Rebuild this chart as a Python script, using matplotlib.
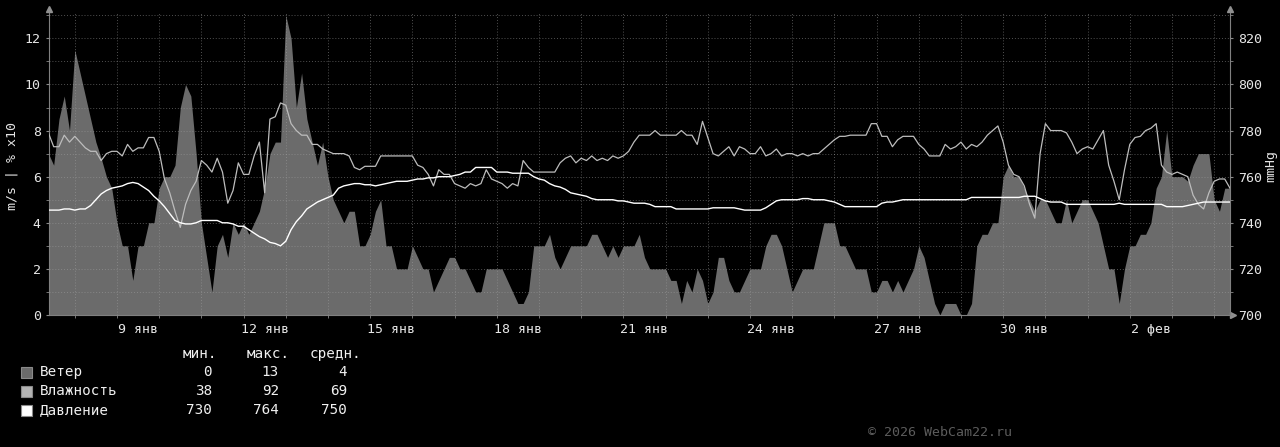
import numpy as np
import matplotlib.pyplot as plt
from matplotlib.patches import Rectangle
from matplotlib.ticker import FixedLocator, MultipleLocator

plt.rcParams['font.family'] = 'DejaVu Sans Mono'

# time: days from 9 Jan 00:00, a sample every 3 hours starting 7 Jan 09:00
t_start = -1.625
t_step = 0.125

# wind, m/s
wind = [
    7, 6.5, 8.5, 9.5, 8,                       # 7 Jan (from 09:00)
    11.5, 10.5, 9.5, 8.5, 7.5, 6.8, 6, 5.5,    # 8 Jan
    4, 3, 3, 1.5, 3, 3, 4, 4,                  # 9 Jan
    5.5, 6, 6, 6.5, 9, 10, 9.5, 7,             # 10 Jan
    4, 2.5, 1, 3, 3.5, 2.5, 4, 3.5,            # 11 Jan
    4, 3.5, 4, 4.5, 5.5, 7, 7.5, 7.5,          # 12 Jan
    13, 12, 9, 10.5, 8.5, 7.5, 6.5, 7.5,       # 13 Jan
    6, 5, 4.5, 4, 4.5, 4.5, 3, 3,              # 14 Jan
    3.5, 4.5, 5, 3, 3, 2, 2, 2,                # 15 Jan
    3, 2.5, 2, 2, 1, 1.5, 2, 2.5,              # 16 Jan
    2.5, 2, 2, 1.5, 1, 1, 2, 2,                # 17 Jan
    2, 2, 1.5, 1, 0.5, 0.5, 1, 3,              # 18 Jan
    3, 3, 3.5, 2.5, 2, 2.5, 3, 3,              # 19 Jan
    3, 3, 3.5, 3.5, 3, 2.5, 3, 2.5,            # 20 Jan
    3, 3, 3, 3.5, 2.5, 2, 2, 2,                # 21 Jan
    2, 1.5, 1.5, 0.5, 1.5, 1, 2, 1.5,          # 22 Jan
    0.5, 1, 2.5, 2.5, 1.5, 1, 1, 1.5,          # 23 Jan
    2, 2, 2, 3, 3.5, 3.5, 3, 2,                # 24 Jan
    1, 1.5, 2, 2, 2, 3, 4, 4,                  # 25 Jan
    4, 3, 3, 2.5, 2, 2, 2, 1,                  # 26 Jan
    1, 1.5, 1.5, 1, 1.5, 1, 1.5, 2,            # 27 Jan
    3, 2.5, 1.5, 0.5, 0, 0.5, 0.5, 0.5,        # 28 Jan
    0, 0, 0.5, 3, 3.5, 3.5, 4, 4,              # 29 Jan
    6, 6.5, 6, 6, 5.5, 5, 4.5, 5,              # 30 Jan
    5, 4.5, 4, 4, 5, 4, 4.5, 5,                # 31 Jan
    5, 4.5, 4, 3, 2, 2, 0.5, 2,                # 1 Feb
    3, 3, 3.5, 3.5, 4, 5.5, 6, 8,              # 2 Feb
    6, 6, 6, 5.8, 6.5, 7, 7, 7,                # 3 Feb
    5, 4.5, 5.5, 5.5,                          # 4 Feb
]

# humidity, %
humidity = [
    79, 73, 73, 78, 75,
    77.5, 75, 72.5, 71, 71, 67, 70, 71,
    71, 69, 74, 71, 72.5, 72.5, 77, 77,
    71, 59, 53, 45, 38, 48, 54, 58,
    67, 65, 62, 68, 62, 48.5, 54, 66,
    61, 61, 69, 75, 53, 85, 86, 92,
    91, 83, 80, 78, 78, 74, 74, 72,
    71, 70, 70, 70, 69, 64, 63, 64.5,
    64.5, 64.5, 69, 69, 69, 69, 69, 69,
    69, 65, 64, 61, 56, 63, 61, 61,
    57, 56, 55, 57, 56, 57, 63, 59,
    58, 57, 55, 57, 56, 67, 64, 62,
    62, 62, 62, 62, 66, 68, 69, 66,
    68, 67, 69, 67, 68, 67, 69, 68,
    69, 71, 75, 78, 78, 78, 80, 78,
    78, 78, 78, 80, 78, 78, 74, 84,
    77, 70, 69, 71, 73, 69, 73, 72,
    70, 70, 73, 69, 70, 72, 69, 70,
    70, 69, 70, 69, 70, 70, 72, 74,
    76, 77.5, 77.5, 78, 78, 78, 78, 83,
    83, 77.5, 77.5, 73, 76, 77.5, 77.5, 77.5,
    74, 72, 69, 69, 69, 74, 72, 73,
    75, 72, 74, 73, 75, 78, 80, 82,
    75, 65, 61, 60, 56, 48, 42, 70,
    83, 80, 80, 80, 79, 75, 70, 72,
    73, 72, 76, 80, 65, 58, 50, 63,
    74, 77, 77.5, 80, 81, 83, 65, 62,
    61, 62, 61, 60, 52, 48, 46, 53,
    58, 59, 59, 55,
]

# pressure, mmHg
pressure = [
    745.5, 745.5, 745.5, 746, 746,
    745.5, 746, 746, 747.5, 750, 752.5, 754, 755,
    755.5, 756, 757, 757.5, 757, 755.5, 754, 751.5,
    749.5, 747, 744, 741, 740, 739.5, 739.5, 740,
    741, 741, 741, 741, 740, 740, 739.5, 738.5,
    738.5, 737, 735.5, 734, 733, 731.5, 731, 730,
    732, 737, 740.5, 743, 746, 747.5, 749, 750,
    751, 752, 755, 756, 756.5, 757, 757, 756.5,
    756.5, 756, 756.5, 757, 757.5, 758, 758, 758,
    758.5, 759, 759, 759.5, 759.5, 760, 760, 760,
    760.5, 761, 762, 762, 764, 764, 764, 764,
    762, 762, 762, 761.5, 761.5, 761.5, 761.5, 760,
    759, 758.5, 757, 756, 755.5, 754.5, 753, 752.5,
    752, 751.5, 750.5, 750, 750, 750, 750, 749.5,
    749.5, 749, 748.5, 748.5, 748.5, 748, 747, 747,
    747, 747, 746, 746, 746, 746, 746, 746,
    746, 746.5, 746.5, 746.5, 746.5, 746.5, 746, 745.5,
    745.5, 745.5, 745.5, 746.5, 748, 749.5, 750, 750,
    750, 750, 750.5, 750.5, 750, 750, 750, 749.5,
    749, 748, 747, 747, 747, 747, 747, 747,
    747, 748.5, 749, 749, 749.5, 750, 750, 750,
    750, 750, 750, 750, 750, 750, 750, 750,
    750, 750, 751, 751, 751, 751, 751, 751,
    751, 751, 751, 751, 751.5, 751.5, 751.5, 750.5,
    749.5, 749, 749, 749, 748, 748, 748, 748,
    748, 748, 748, 748, 748, 748, 748.5, 748,
    748, 748, 748, 748, 748, 748, 748, 747,
    747, 747, 747, 747.5, 748, 748.5, 749, 749,
    749, 749, 749, 749,
]

day_ticks = [0.5, 3.5, 6.5, 9.5, 12.5, 15.5, 18.5, 21.5, 24.5]
day_labels = ['9 янв', '12 янв', '15 янв', '18 янв', '21 янв',
              '24 янв', '27 янв', '30 янв', '2 фев']

legend_names = ['Ветер', 'Влажность', 'Давление']
legend_colors = ['#6b6b6b', '#b4b4b4', '#ffffff']
stat_min = [0, 38, 730]
stat_max = [13, 92, 764]
stat_avg = [4, 69, 750]

W, H = 1280, 447
t = t_start + t_step * np.arange(len(wind))


def fx(x):
    return x / W


def fy(y):
    return 1 - y / H


fig = plt.figure(figsize=(W / 100, H / 100), dpi=100, facecolor='black')
ax = fig.add_axes([49 / W, 132 / H, 1181 / W, 302 / H])
ax.set_facecolor('black')

ax.fill_between(t, 0, wind, color='#6b6b6b', lw=0, zorder=1)
ax.plot(t, np.array(humidity) / 10, color='#bdbdbd', lw=0.9, zorder=3)

ax.set_xlim(-1.611, 26.375)
ax.set_ylim(0, 13.1)

# grid
ax.set_axisbelow(False)
ax.xaxis.set_major_locator(FixedLocator(day_ticks))
ax.set_xticklabels(day_labels)
ax.xaxis.set_minor_locator(MultipleLocator(1))
ax.yaxis.set_major_locator(MultipleLocator(2))
ax.yaxis.set_minor_locator(MultipleLocator(1))
grid_kw = dict(color='#a2a2a2', alpha=0.5, lw=0.7, linestyle=(0, (1, 2)))
ax.grid(which='minor', axis='x', **grid_kw)
ax.grid(which='both', axis='y', **grid_kw)
ax.grid(which='major', axis='x', visible=False)

ax.tick_params(axis='x', which='major', length=0, pad=6,
               labelsize=9.5, labelcolor='#e6e6e6')
ax.tick_params(axis='x', which='minor', length=2, color='#888888')
ax.tick_params(axis='y', which='both', length=2, color='#888888',
               labelsize=9.5, labelcolor='#e6e6e6', pad=4)

for side in ['left', 'bottom', 'right']:
    ax.spines[side].set_color('#808080')
    ax.spines[side].set_linewidth(0.8)
ax.spines['top'].set_visible(False)

# pressure on the right axis
ax2 = ax.twinx()
ax2.plot(t, pressure, color='white', lw=1.0, zorder=4)
ax2.set_ylim(700, 831)
ax2.yaxis.set_major_locator(MultipleLocator(20))
ax2.yaxis.set_minor_locator(MultipleLocator(10))
ax2.tick_params(axis='y', which='both', length=2, color='#888888',
                labelsize=9.5, labelcolor='#e6e6e6', pad=4)
for s in ax2.spines.values():
    s.set_visible(False)

# axis titles
fig.text(fx(12), fy(166), 'm/s | % x10', rotation=90, ha='center',
         va='center', fontsize=9.5, color='#e6e6e6')
fig.text(fx(1271), fy(166), 'mmHg', rotation=90, ha='center',
         va='center', fontsize=9.5, color='#e6e6e6')

# axis arrows
arrow_kw = dict(color='#909090', markersize=4, clip_on=False,
                transform=ax.transAxes, linestyle='none')
ax.plot([0], [1 + 4 / 302], marker='^', **arrow_kw)
ax.plot([1], [1 + 4 / 302], marker='^', **arrow_kw)
ax.plot([1 + 3 / 1181], [0], marker='>', **arrow_kw)

# legend block
txt_kw = dict(fontsize=10.3, color='#f0f0f0', va='center')
fig.text(fx(183), fy(354), 'мин.', ha='left', **txt_kw)
fig.text(fx(247), fy(354), 'макс.', ha='left', **txt_kw)
fig.text(fx(310), fy(354), 'средн.', ha='left', **txt_kw)
row_y = [372, 391, 410]
for name, col, mn, mx, av, y in zip(legend_names, legend_colors,
                                     stat_min, stat_max, stat_avg, row_y):
    fig.add_artist(Rectangle((fx(21), fy(y + 5.5)), 11 / W, 11 / H,
                             transform=fig.transFigure, facecolor=col,
                             edgecolor='#8a8a8a', lw=0.8))
    fig.text(fx(40), fy(y), name, ha='left', **txt_kw)
    fig.text(fx(212), fy(y), str(mn), ha='right', **txt_kw)
    fig.text(fx(279), fy(y), str(mx), ha='right', **txt_kw)
    fig.text(fx(347), fy(y), str(av), ha='right', **txt_kw)

fig.text(fx(868), fy(433), '© 2026 WebCam22.ru', ha='left', va='center',
         fontsize=9.5, color='#5c5c5c')

fig.savefig('out.png', dpi=100, facecolor='black')
